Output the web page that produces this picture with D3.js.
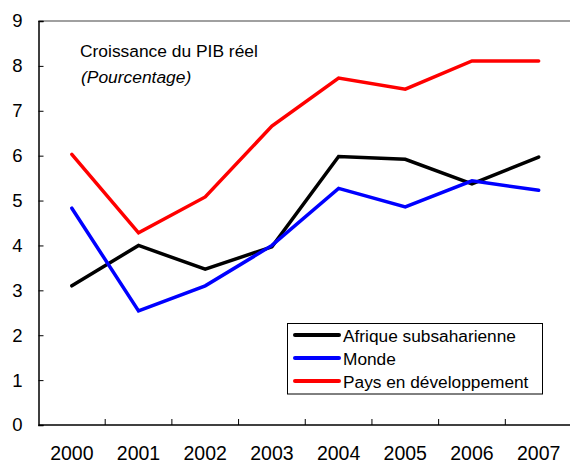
<!DOCTYPE html>
<html>
<head>
<meta charset="utf-8">
<script src="https://cdn.jsdelivr.net/npm/d3@7"></script>
<style>
  body { margin: 0; background: #fff; }
  svg { display: block; font-family: "Liberation Sans", Arial, sans-serif; }
</style>
</head>
<body>
<svg id="chart" width="570" height="463"></svg>
<script>
const years = ["2000", "2001", "2002", "2003", "2004", "2005", "2006", "2007"];
const afrique = [3.1, 4.0, 3.47, 3.97, 5.98, 5.92, 5.37, 5.97];
const monde = [4.83, 2.54, 3.1, 4.0, 5.27, 4.86, 5.44, 5.23];
const pays = [6.03, 4.28, 5.08, 6.66, 7.73, 7.48, 8.11, 8.11];
const yTicks = [0, 1, 2, 3, 4, 5, 6, 7, 8, 9];

const series = [
  { name: "Afrique subsaharienne", values: afrique, color: "#000000" },
  { name: "Monde", values: monde, color: "#0000ff" },
  { name: "Pays en développement", values: pays, color: "#ff0000" }
];

const svg = d3.select("#chart"),
  plotLeft = 38.5, plotRight = 572, plotTop = 21, plotBottom = 425;

const x = d3.scaleBand().domain(years).range([plotLeft, plotRight]);
const y = d3.scaleLinear().domain([0, 9]).range([plotBottom, plotTop]);

// top border
svg.append("line")
  .attr("x1", plotLeft).attr("x2", 570)
  .attr("y1", plotTop).attr("y2", plotTop)
  .attr("stroke", "#808080").attr("stroke-width", 1.5);

// y axis
const yAxis = svg.append("g")
  .attr("transform", `translate(${plotLeft},0)`)
  .call(d3.axisRight(y).tickValues(yTicks).tickSize(5).tickFormat(d3.format("d")));
yAxis.attr("font-family", null).attr("font-size", null);
yAxis.select(".domain").attr("stroke", "#000").attr("stroke-width", 1.5);
yAxis.selectAll(".tick line").attr("stroke", "#000").attr("stroke-width", 1);
yAxis.selectAll(".tick text")
  .attr("x", -16).attr("text-anchor", "end")
  .attr("font-size", 18.5).attr("fill", "#000");

// x axis, ticks between categories
const xAxis = svg.append("g")
  .attr("transform", `translate(0,${plotBottom})`);
xAxis.append("line")
  .attr("x1", plotLeft).attr("x2", plotRight)
  .attr("stroke", "#000").attr("stroke-width", 1.5);
xAxis.selectAll(".sep")
  .data(years.slice(1))
  .join("line")
  .attr("x1", d => x(d)).attr("x2", d => x(d))
  .attr("y1", 0).attr("y2", -6)
  .attr("stroke", "#000").attr("stroke-width", 1);
xAxis.selectAll(".lbl")
  .data(years)
  .join("text")
  .attr("x", d => x(d) + x.bandwidth() / 2)
  .attr("y", 35)
  .attr("text-anchor", "middle")
  .attr("font-size", 19.5)
  .text(d => d);

// lines
const line = d3.line()
  .x((d, i) => x(years[i]) + x.bandwidth() / 2)
  .y(d => y(d));

series.forEach(s => {
  svg.append("path")
    .datum(s.values)
    .attr("d", line)
    .attr("fill", "none")
    .attr("stroke", s.color)
    .attr("stroke-width", 3.5)
    .attr("stroke-linejoin", "miter")
    .attr("stroke-linecap", "round");
});

// title
svg.append("text")
  .attr("x", 80).attr("y", 57)
  .attr("font-size", 17.4)
  .text("Croissance du PIB réel");
svg.append("text")
  .attr("x", 81).attr("y", 83)
  .attr("font-size", 17.4)
  .attr("font-style", "italic")
  .text("(Pourcentage)");

// legend
const legend = svg.append("g");
legend.append("rect")
  .attr("x", 287.5).attr("y", 323.5)
  .attr("width", 255).attr("height", 70.5)
  .attr("fill", "#fff").attr("stroke", "#000").attr("stroke-width", 1);
series.forEach((s, i) => {
  const ly = 335 + i * 23;
  legend.append("line")
    .attr("x1", 295).attr("x2", 339)
    .attr("y1", ly).attr("y2", ly)
    .attr("stroke", s.color).attr("stroke-width", 4)
    .attr("stroke-linecap", "round");
  legend.append("text")
    .attr("x", 343).attr("y", ly + 6.5)
    .attr("font-size", 17.3)
    .text(s.name);
});
</script>
</body>
</html>
